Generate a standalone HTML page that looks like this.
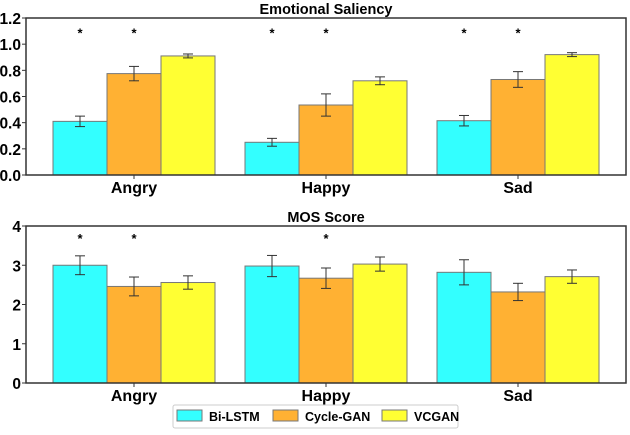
<!DOCTYPE html>
<html><head><meta charset="utf-8"><style>
body{margin:0;background:#fff;font-family:"Liberation Sans",sans-serif}
svg text{font-family:"Liberation Sans",sans-serif;font-weight:bold}
</style></head><body>
<svg id="c" width="630" height="430" xmlns="http://www.w3.org/2000/svg"></svg>
<script>
const categories=["Angry","Happy","Sad"];
const seriesNames=["Bi-LSTM","Cycle-GAN","VCGAN"];
const colors=["#33ffff","#ffb133","#ffff33"];
const esValues=[[0.41,0.25,0.415],[0.775,0.535,0.73],[0.91,0.72,0.92]];
const esErrors=[[0.04,0.03,0.04],[0.055,0.085,0.06],[0.015,0.03,0.015]];
const esStars=[[1,1,1],[1,1,1],[0,0,0]];
const esTicks=["0.0","0.2","0.4","0.6","0.8","1.0","1.2"];
const mosValues=[[3.0,2.98,2.82],[2.46,2.67,2.32],[2.56,3.03,2.71]];
const mosErrors=[[0.24,0.27,0.32],[0.24,0.26,0.22],[0.17,0.18,0.17]];
const mosStars=[[1,0,0],[1,1,0],[0,0,0]];
const mosTicks=["0","1","2","3","4"];
const NS="http://www.w3.org/2000/svg";
const svg=document.getElementById('c');
function mk(t,a,p){const e=document.createElementNS(NS,t);for(const k in a)e.setAttribute(k,a[k]);(p||svg).appendChild(e);return e;}
function panel(name,title,vals,errs,stars,ticks,yMax,top,bot,starVal){
  const L=26,R=626,bw=54;
  const g=mk('g',{});
  
  
  const y=v=>bot-(v/yMax)*(bot-top);
  const xc=i=>134+i*192;
  const t=mk('text',{x:(L+R)/2,y:top-4,'text-anchor':'middle','font-size':14.5},g);t.textContent=title;
  
  ticks.forEach(s=>{const v=parseFloat(s);
    mk('line',{x1:L-4,x2:L,y1:y(v),y2:y(v),stroke:'#333','stroke-width':1},g);
    const tx=mk('text',{x:L-5,y:y(v)+6,'text-anchor':'end','font-size':15.5},g);tx.textContent=s;
    });
  categories.forEach((c,i)=>{
    mk('line',{x1:xc(i),x2:xc(i),y1:bot,y2:bot+4,stroke:'#333'},g);
    const tx=mk('text',{x:xc(i),y:bot+18,'text-anchor':'middle','font-size':16},g);tx.textContent=c;
    
    for(let s=0;s<3;s++){
      const x0=xc(i)-bw*1.5+s*bw, v=vals[s][i], e=errs[s][i];
      const r=mk('rect',{x:x0,y:y(v),width:bw,height:bot-y(v),fill:colors[s],stroke:'#777','stroke-width':1},g);
      
      
      const cx=x0+bw/2;
      mk('line',{x1:cx,x2:cx,y1:y(v+e),y2:y(v-e),stroke:'#333','stroke-width':1},g);
      mk('line',{x1:cx-5,x2:cx+5,y1:y(v+e),y2:y(v+e),stroke:'#333'},g);
      mk('line',{x1:cx-5,x2:cx+5,y1:y(v-e),y2:y(v-e),stroke:'#333'},g);
      if(stars[s][i]){const st=mk('text',{x:cx,y:y(starVal)+9,'text-anchor':'middle','font-size':13,'font-weight':'normal'},g);st.textContent='*';
        }
    }
  });
  mk('rect',{x:L,y:top,width:R-L,height:bot-top,fill:'none',stroke:'#333','stroke-width':1.5},g);
}
panel('emotional-saliency','Emotional Saliency',esValues,esErrors,esStars,esTicks,1.2,18,175,1.12);
panel('mos','MOS Score',mosValues,mosErrors,mosStars,mosTicks,4,226,383,3.8);
const lg=mk('g',{});

mk('rect',{x:173,y:405,width:285,height:23,fill:'#fff',stroke:'#ccc',rx:2},lg);
const lx=[177,273,382];
seriesNames.forEach((n,i)=>{
  const e=mk('g',{},lg);
  
  mk('rect',{x:lx[i],y:410,width:25,height:11,fill:colors[i],stroke:'#777'},e);
  const t=mk('text',{x:lx[i]+32,y:421,'font-size':12.5},e);t.textContent=n;
});
</script>
</body></html>
